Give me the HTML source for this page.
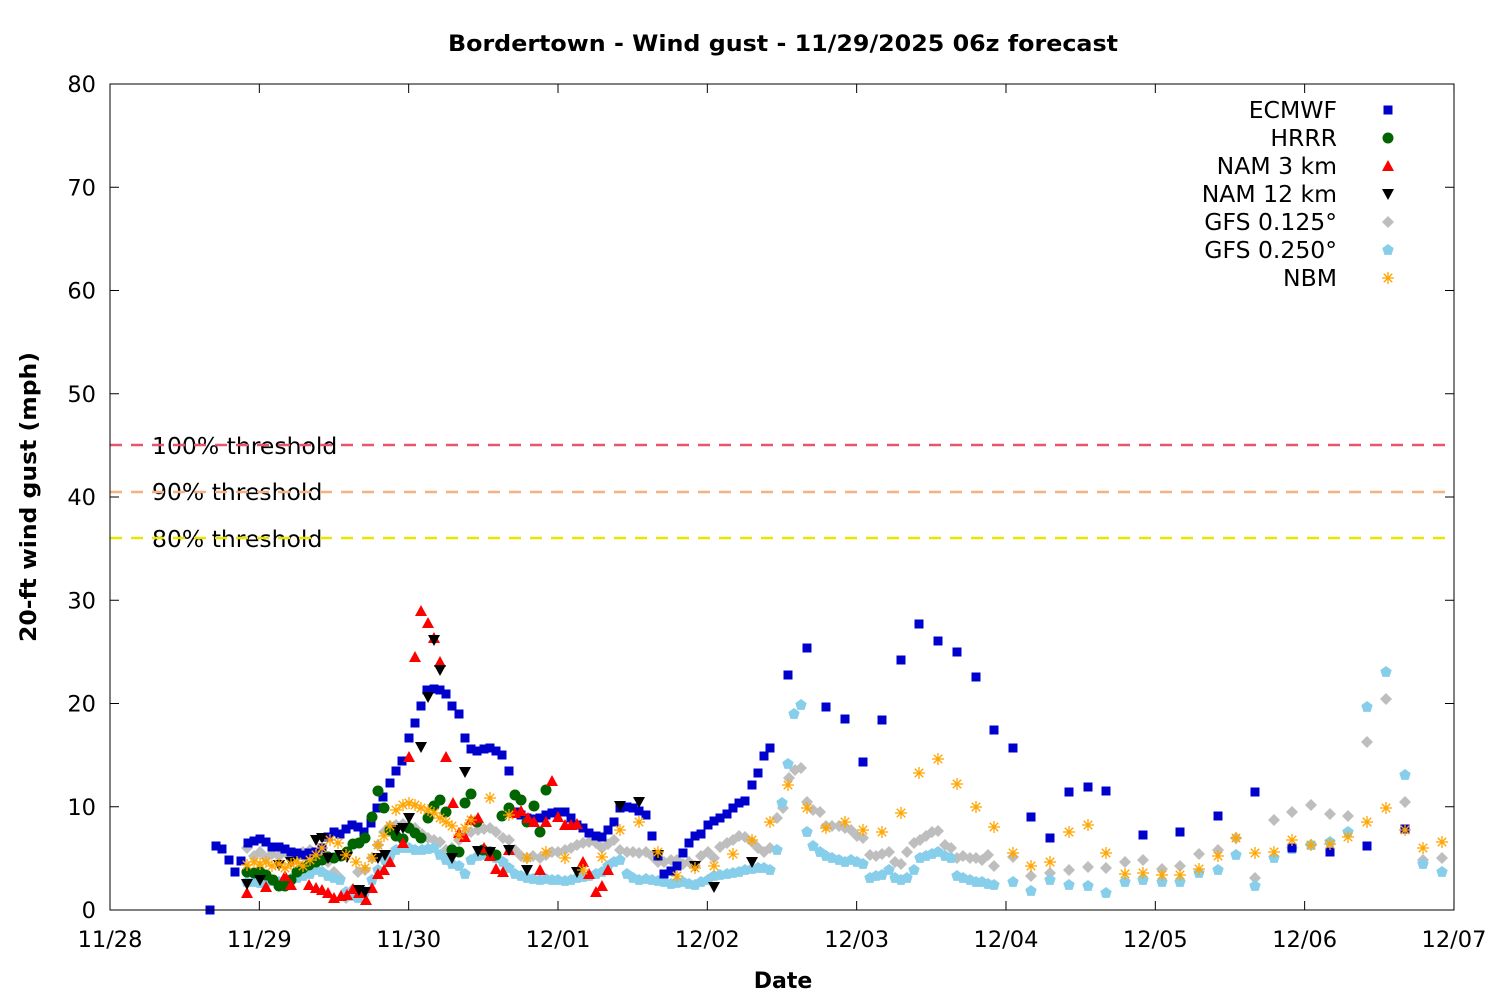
<!DOCTYPE html>
<html><head><meta charset="utf-8"><style>
body{margin:0;background:#fff}
svg{display:block;font-family:"DejaVu Sans","Liberation Sans",sans-serif}
</style></head><body>
<svg id="s" width="1500" height="1000" viewBox="0 0 1500 1000" xmlns="http://www.w3.org/2000/svg">
<rect width="1500" height="1000" fill="#fff"/>
<text x="783" y="51" font-size="22" font-weight="bold" text-anchor="middle" textLength="670" lengthAdjust="spacingAndGlyphs">Bordertown - Wind gust - 11/29/2025 06z forecast</text>
<text x="783" y="988" font-size="22" font-weight="bold" text-anchor="middle">Date</text>
<text transform="translate(36,497) rotate(-90)" font-size="22" font-weight="bold" text-anchor="middle" textLength="290" lengthAdjust="spacingAndGlyphs">20-ft wind gust (mph)</text>
<g id="ax" font-size="22.5"></g>
<text x="152" y="454" font-size="23.5">100% threshold</text>
<text x="152" y="500" font-size="23.5">90% threshold</text>
<text x="152" y="547" font-size="23.5">80% threshold</text>
<line x1="110" x2="1454" y1="445" y2="445" stroke="#e8566e" stroke-width="2.5" stroke-dasharray="12,9"/>
<line x1="110" x2="1454" y1="492" y2="492" stroke="#f4b183" stroke-width="2.5" stroke-dasharray="12,9"/>
<line x1="110" x2="1454" y1="538" y2="538" stroke="#e6e600" stroke-width="2.5" stroke-dasharray="12,9"/>
<g id="pts"></g>
<rect x="110" y="84" width="1344" height="826" fill="none" stroke="#000" stroke-width="1"/>
<g font-size="23.5" text-anchor="end">
<text x="1337" y="118">ECMWF</text><text x="1337" y="146">HRRR</text><text x="1337" y="174">NAM 3 km</text><text x="1337" y="202">NAM 12 km</text><text x="1337" y="230">GFS 0.125°</text><text x="1337" y="258">GFS 0.250°</text><text x="1337" y="286">NBM</text>
</g>
</svg>
<script>
var NS="http://www.w3.org/2000/svg",P=document.getElementById('pts'),A=document.getElementById('ax');
function el(t,a,p){var e=document.createElementNS(NS,t);for(var k in a)e.setAttribute(k,a[k]);(p||P).appendChild(e);return e;}
for(var v=0;v<=80;v+=10){var y=910-v*10.325;el('line',{x1:110,x2:119,y1:y,y2:y,stroke:'#000'},A);el('line',{x1:1445,x2:1454,y1:y,y2:y,stroke:'#000'},A);
var t=el('text',{x:96,y:y+8,'text-anchor':'end'},A);t.textContent=v;}
var xl=['11/28','11/29','11/30','12/01','12/02','12/03','12/04','12/05','12/06','12/07'];
for(var i=0;i<10;i++){var x=110+i*149.33;el('line',{x1:x,x2:x,y1:901,y2:910,stroke:'#000'},A);el('line',{x1:x,x2:x,y1:84,y2:93,stroke:'#000'},A);
var t=el('text',{x:x,y:947,'text-anchor':'middle'},A);t.textContent=xl[i];}
function sq(x,y,c){el('rect',{x:x-4.5,y:y-4.5,width:9,height:9,fill:c});}
function ci(x,y,c){el('circle',{cx:x,cy:y,r:5.5,fill:c});}
function tu(x,y,c){el('polygon',{points:(x-6)+','+(y+5)+' '+(x+6)+','+(y+5)+' '+x+','+(y-6),fill:c});}
function td(x,y,c){el('polygon',{points:(x-6)+','+(y-5)+' '+(x+6)+','+(y-5)+' '+x+','+(y+6),fill:c});}
function di(x,y,c){el('polygon',{points:x+','+(y-6)+' '+(x+6)+','+y+' '+x+','+(y+6)+' '+(x-6)+','+y,fill:c});}
function pe(x,y,c){var s='';for(var k=0;k<5;k++){var a=-Math.PI/2+k*2*Math.PI/5;s+=(x+6*Math.cos(a))+','+(y+6*Math.sin(a))+' ';}el('polygon',{points:s,fill:c});}
function as(x,y,c){for(var k=0;k<4;k++){var a=k*Math.PI/4;el('line',{x1:x-6*Math.cos(a),y1:y-6*Math.sin(a),x2:x+6*Math.cos(a),y2:y+6*Math.sin(a),stroke:c,'stroke-width':1.3});}}
function S(f,c,d){for(var i=0;i<d.length;i+=2)f(d[i],d[i+1],c);}
var gfs25=[247,882,254,882,260,883,266,882,272,881,279,882,285,880,291,879,297,878,303,876,310,874,316,870,322,872,328,876,334,878,340,880,346,892,352,896,358,898,365,892,372,880,378,870,385,860,390,856,396,850,403,848,409,848,415,850,422,850,428,849,434,848,440,855,446,860,452,864,459,866,465,874,471,860,478,856,484,855,490,854,496,858,503,862,509,868,515,874,521,876,527,878,533,879,540,880,546,879,552,880,558,880,565,881,571,880,577,878,583,877,589,876,596,874,602,872,608,866,614,862,620,860,627,874,633,878,639,880,646,879,652,880,658,881,664,882,671,884,677,883,683,882,689,884,695,885,701,882,708,880,714,876,720,875,727,874,733,873,739,872,745,870,752,869,758,868,764,868,770,870,777,850,782,803,788,764,794,714,801,705,807,832,813,846,820,852,826,856,832,858,839,860,845,862,851,860,857,862,863,864,870,878,876,876,882,875,889,870,895,878,901,880,907,878,914,870,920,858,926,856,932,854,938,852,945,856,951,858,957,876,963,878,970,880,976,882,982,882,988,884,994,885,1013,882,1031,891,1050,880,1069,885,1088,886,1106,893,1125,882,1143,880,1162,882,1180,882,1199,873,1218,870,1236,855,1255,886,1274,858,1292,849,1311,845,1330,842,1348,832,1367,707,1386,672,1405,775,1423,864,1442,872];
var gfs125=[247,848,254,856,260,852,266,858,272,854,279,856,285,852,291,858,297,856,303,852,310,850,316,854,322,860,328,862,334,872,340,878,346,898,352,890,358,872,365,870,372,858,378,845,384,832,390,826,396,825,403,824,409,826,415,828,422,834,428,838,434,840,440,842,446,850,452,848,459,840,465,834,471,832,478,830,484,829,490,828,496,832,503,838,509,840,515,850,521,856,527,858,533,856,540,858,546,855,552,852,558,852,565,850,571,848,577,845,583,843,589,842,596,843,602,848,608,844,614,840,620,850,627,852,633,852,639,853,646,852,652,856,658,862,664,862,671,860,677,860,683,864,689,862,695,866,701,856,708,852,714,858,720,847,727,843,733,840,739,836,745,837,752,842,758,848,764,852,770,848,777,818,783,808,789,778,795,770,801,768,807,802,813,810,820,812,826,826,832,826,839,826,845,828,851,830,857,836,863,838,870,855,876,856,882,854,889,852,895,862,901,864,907,852,914,843,920,840,926,836,932,832,938,831,945,845,951,848,957,858,963,856,970,858,976,858,982,860,988,855,994,866,1013,857,1031,876,1050,873,1069,870,1088,867,1106,868,1125,862,1143,860,1162,869,1180,866,1199,854,1218,850,1236,838,1255,878,1274,820,1292,812,1311,805,1330,814,1348,816,1367,742,1386,699,1405,802,1423,860,1442,858];
S(di,'#bebebe',gfs125);
S(pe,'#87ceeb',gfs25);
var ec=[210,910,216,846,222,849,229,860,235,872,241,861,248,843,254,841,260,839,266,842,272,847,279,847,285,849,291,852,297,853,303,855,309,853,316,852,322,848,328,837,334,832,340,834,346,829,352,825,358,827,364,832,371,823,377,808,383,797,390,783,396,771,402,761,409,738,415,723,421,706,427,690,434,689,440,690,446,694,452,706,459,714,465,738,471,749,477,751,484,749,490,748,496,751,502,755,509,771,515,812,521,815,527,818,533,819,540,818,546,815,552,813,558,812,565,812,571,818,577,825,583,828,589,833,596,836,602,837,608,830,614,822,620,808,627,807,633,808,639,811,646,815,652,836,658,856,664,874,671,871,677,866,683,853,689,843,695,836,701,834,708,825,714,821,720,818,727,814,733,808,739,803,745,801,752,785,758,773,764,756,770,748,788,675,807,648,826,707,845,719,863,762,882,720,901,660,919,624,938,641,957,652,976,677,994,730,1013,748,1031,817,1050,838,1069,792,1088,787,1106,791,1143,835,1180,832,1218,816,1255,792,1292,848,1330,852,1367,846,1405,829];
S(sq,'#0000cc',ec);
S(ci,'#006400',[247,872,254,873,260,872,266,875,273,880,279,886,285,886,291,880,297,872,303,868,309,865,316,862,322,860,328,857,334,858,341,856,347,852,353,844,359,843,365,838,372,817,378,791,384,808,390,830,396,836,403,839,409,828,415,833,421,838,428,818,434,806,440,800,446,812,452,850,459,852,465,803,471,794,477,822,483,850,490,852,496,855,502,816,509,808,515,795,521,800,527,822,534,806,540,832,546,790]);
S(tu,'#ff0000',[247,893,266,887,285,876,291,885,309,885,316,888,322,890,328,893,334,898,341,896,347,895,353,889,359,893,366,900,372,888,378,874,384,870,390,862,403,843,409,757,415,657,421,611,428,623,434,638,440,662,446,757,453,803,459,833,465,837,471,820,478,818,484,848,490,856,496,869,503,872,509,850,515,813,521,811,528,818,534,822,540,870,546,822,552,781,558,817,565,825,571,825,577,824,583,862,589,874,596,892,602,886,608,870]);
S(td,'#000000',[247,884,260,880,279,865,291,862,316,840,322,838,328,858,340,855,347,857,359,890,365,892,378,858,385,855,397,830,403,828,409,818,421,747,428,697,434,640,440,670,452,858,465,772,478,851,490,852,509,850,527,870,577,872,620,806,639,802,658,855,695,866,714,887,752,862]);
S(as,'#ffa500',[247,865,254,862,260,864,266,862,272,866,279,864,285,868,291,864,297,862,303,866,310,860,316,855,322,848,330,840,338,843,346,855,356,862,365,868,372,858,378,845,384,836,390,826,396,810,403,805,409,803,415,805,421,808,428,810,434,813,440,818,446,822,452,826,459,835,465,828,471,820,490,798,509,815,527,858,546,852,565,858,583,870,602,857,620,830,639,822,658,852,677,876,695,868,714,866,733,854,752,840,770,822,788,785,807,808,826,828,845,822,863,830,882,832,901,813,919,773,938,759,957,784,976,807,994,827,1013,853,1031,866,1050,862,1069,832,1088,825,1106,853,1125,874,1143,873,1162,875,1180,875,1199,869,1218,856,1236,838,1255,853,1274,852,1292,840,1311,845,1330,844,1348,837,1367,822,1386,808,1405,830,1423,848,1442,842]);
sq(1388,110,'#0000cc');ci(1388,138,'#006400');tu(1388,166,'#ff0000');td(1388,194,'#000');di(1388,222,'#bebebe');pe(1388,250,'#87ceeb');as(1388,278,'#ffa500');
</script>
</body></html>
